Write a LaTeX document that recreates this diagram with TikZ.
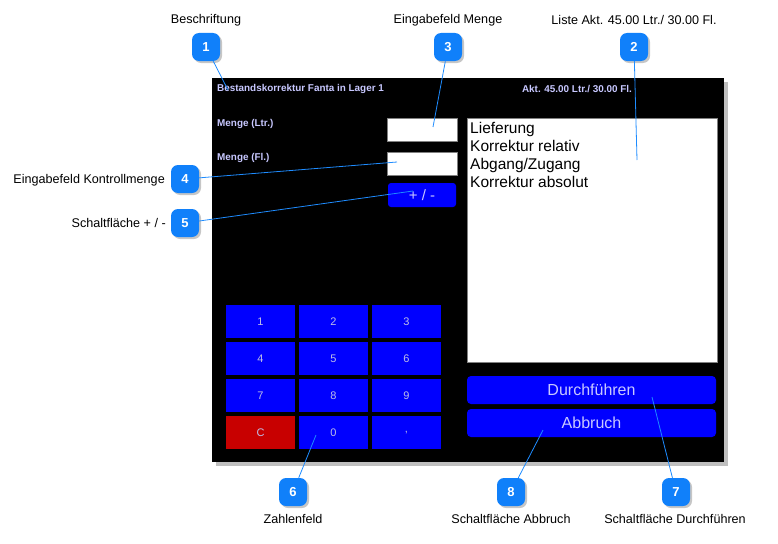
\documentclass[tikz,border=0pt]{standalone}
\usepackage{fontspec}
\setmainfont{Liberation Sans}
\usetikzlibrary{shadows}
\definecolor{callblue}{RGB}{16,128,250}
\definecolor{lineblue}{RGB}{30,140,255}
\definecolor{lavender}{RGB}{200,200,255}
\definecolor{keytext}{RGB}{190,190,230}
\definecolor{keyblue}{RGB}{0,0,255}
\definecolor{keyred}{RGB}{200,0,0}

\begin{document}
\begin{tikzpicture}[x=1pt,y=-1pt]
  \tikzset{badge/.style={fill=callblue, rounded corners=7pt, minimum size=28pt, inner sep=0pt,
      text=white, font=\fontsize{13}{13}\selectfont\bfseries,
      drop shadow={shadow xshift=2pt, shadow yshift=-2pt, opacity=.45}},
    lbl/.style={font=\fontsize{12.6}{14}\selectfont, text=black, inner sep=0pt},
    callout/.style={draw=lineblue, line width=.8pt},
    screentext/.style={font=\fontsize{9.9}{11}\selectfont\bfseries, text=lavender, inner sep=0pt},
    field/.style={draw=gray, fill=white, line width=.8pt, minimum width=70pt, minimum height=23pt, inner sep=0pt},
    key/.style={fill=#1, minimum width=69pt, minimum height=33pt, inner sep=0pt,
      text=keytext, font=\fontsize{11}{12}\selectfont},
    bigbutton/.style={fill=keyblue, rounded corners=4pt, minimum width=249pt, minimum height=28pt,
      inner sep=0pt, text=lavender, font=\fontsize{16}{18}\selectfont}}
  \useasboundingbox (0,0) rectangle (778,543);

  % screen
  \node[fill=black, minimum width=512pt, minimum height=384pt, inner sep=0pt,
    drop shadow={shadow xshift=4pt, shadow yshift=-4pt, fill=gray, opacity=.5}] (screen) at (468,270) {};
  \node[screentext, anchor=west] (title) at (217,89) {Bestandskorrektur Fanta in Lager 1};
  \node[screentext] (akt) at (577,89) {Akt. 45.00 Ltr./ 30.00 Fl.};
  \node[screentext, anchor=west] (ltr) at (217,124) {Menge (Ltr.)};
  \node[screentext, anchor=west] (fl) at (217,158) {Menge (Fl.)};
  \node[field] (menge) at (422,129.5) {};
  \node[field] (kontroll) at (422,164) {};
  \node[fill=keyblue, rounded corners=3pt, minimum width=68pt, minimum height=24pt, inner sep=0pt,
    text=lavender, font=\fontsize{15}{15}\selectfont] (plusminus) at (422,195) {+ / -};

  % liste
  \node[draw=gray, fill=white, minimum width=250pt, minimum height=244pt, inner sep=0pt] (liste) at (592,240) {};
  \node[anchor=north west, align=left, inner sep=0pt, font=\fontsize{15.5}{18}\selectfont] (items) at (470,122)
    {Lieferung\\Korrektur relativ\\Abgang/Zugang\\Korrektur absolut};

  % zahlenfeld
  \foreach \name/\lbl/\c/\r/\col in {k1/1/0/0/keyblue, k2/2/1/0/keyblue, k3/3/2/0/keyblue,
      k4/4/0/1/keyblue, k5/5/1/1/keyblue, k6/6/2/1/keyblue,
      k7/7/0/2/keyblue, k8/8/1/2/keyblue, k9/9/2/2/keyblue,
      kc/C/0/3/keyred, k0/0/1/3/keyblue, kkomma/{,}/2/3/keyblue}
    \node[key=\col] (\name) at (260.5+73*\c, 321.5+37*\r) {\lbl};

  \node[bigbutton] (durch) at (591.5,390) {Durchführen};
  \node[bigbutton] (abbruch) at (591.5,423) {Abbruch};

  % callouts
  \node[badge] (b1) at (206,47) {1};
  \node[badge] (b2) at (634,47) {2};
  \node[badge] (b3) at (448,47) {3};
  \node[badge] (b4) at (185,179) {4};
  \node[badge] (b5) at (185,223) {5};
  \node[badge] (b6) at (293,492) {6};
  \node[badge] (b7) at (676,492) {7};
  \node[badge] (b8) at (511,492) {8};

  \node[lbl] (t1) at (206,20) {Beschriftung};
  \node[lbl] (t2) at (634,20) {Liste Akt. 45.00 Ltr./ 30.00 Fl.};
  \node[lbl] (t3) at (448,20) {Eingabefeld Menge};
  \node[lbl, anchor=east] (t4) at (165,180) {Eingabefeld Kontrollmenge};
  \node[lbl, anchor=east] (t5) at (166,223) {Schaltfläche + / -};
  \node[lbl] (t6) at (293,519) {Zahlenfeld};
  \node[lbl] (t7) at (675,519) {Schaltfläche Durchführen};
  \node[lbl] (t8) at (511,519) {Schaltfläche Abbruch};

  \coordinate (p1) at (228,90);
  \coordinate (p2) at (637,160);
  \coordinate (p3) at (433,127);
  \coordinate (p4) at (397,162);
  \coordinate (p5) at (413,191);
  \coordinate (p6) at (316,435);
  \coordinate (p7) at (652,397);
  \coordinate (p8) at (543,430);
  \foreach \i in {1,...,8}
    \draw[callout] (b\i) -- (p\i);
\end{tikzpicture}
\end{document}
